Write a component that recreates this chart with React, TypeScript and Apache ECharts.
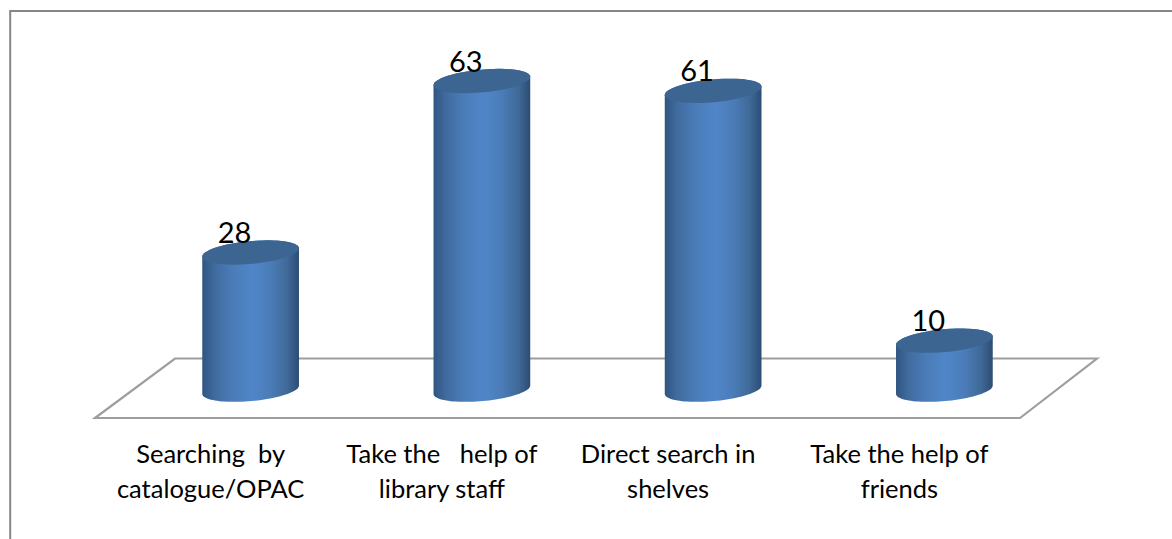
import React, { useEffect, useRef } from "react";
import * as echarts from "echarts";

const categories = [
  "Searching  by\ncatalogue/OPAC",
  "Take the   help of\nlibrary staff",
  "Direct search in\nshelves",
  "Take the help of\nfriends",
];
const values = [28, 63, 61, 10];

const FONT = "Lato, Carlito, sans-serif";
const TILT = (-5.2 * Math.PI) / 180;
const DEPTH_X = 40;
const DEPTH_Y = 28.3;

// Point on the tilted ellipse that forms a cylinder cap.
function capPoint(cx: number, cy: number, a: number, b: number, t: number) {
  const ct = Math.cos(t);
  const st = Math.sin(t);
  return [
    cx + a * ct * Math.cos(TILT) - b * st * Math.sin(TILT),
    cy + a * ct * Math.sin(TILT) + b * st * Math.cos(TILT),
  ];
}

function arc(cx: number, cy: number, a: number, b: number, from: number, to: number) {
  const pts: number[][] = [];
  const steps = 48;
  for (let i = 0; i <= steps; i++) {
    pts.push(capPoint(cx, cy, a, b, from + ((to - from) * i) / steps));
  }
  return pts;
}

// Cylinder standing on the floor: shaded body, darker top cap, value above it.
function renderCylinder(params: any, api: any) {
  const value = api.value(1);
  const [x, yTop] = api.coord([api.value(0), value]);
  const [, yBase] = api.coord([api.value(0), 0]);
  const a = api.size([1, 0])[0] * 0.21;
  const b = 11.4;
  const cx = x + DEPTH_X;
  const top = yTop - DEPTH_Y;
  const base = yBase - DEPTH_Y;

  const body = [...arc(cx, base, a, b, Math.PI, 0), ...arc(cx, top, a, b, 0, -Math.PI)];

  return {
    type: "group",
    children: [
      {
        type: "polygon",
        shape: { points: body },
        style: {
          fill: new echarts.graphic.LinearGradient(0, 0, 1, 0, [
            { offset: 0, color: "#2f5582" },
            { offset: 0.12, color: "#3f6a9c" },
            { offset: 0.3, color: "#4a7bb7" },
            { offset: 0.52, color: "#5086c9" },
            { offset: 0.72, color: "#4a7bb6" },
            { offset: 0.88, color: "#3f6997" },
            { offset: 1, color: "#2c4c74" },
          ]),
        },
      },
      {
        type: "polygon",
        shape: { points: arc(cx, top, a, b, 0, Math.PI * 2) },
        style: { fill: "#3c6591" },
      },
      {
        type: "text",
        style: {
          x: cx - 16,
          y: top - 21,
          text: String(value),
          fill: "#000000",
          font: `29px ${FONT}`,
          align: "center",
          verticalAlign: "middle",
        },
      },
    ],
  };
}

export default function App() {
  const ref = useRef<HTMLDivElement>(null);

  useEffect(() => {
    const chart = echarts.init(ref.current!, null, { renderer: "svg" });
    chart.setOption({
      animation: false,
      backgroundColor: "#ffffff",
      grid: { left: 95, right: 152, top: 26, bottom: 121 },
      xAxis: {
        type: "category",
        // The last two labels sit slightly left of their band centres.
        data: categories.map((value, i) => ({
          value,
          textStyle: { padding: [0, i < 2 ? 0 : 10, 0, 0] },
        })),
        axisLine: { show: false },
        axisTick: { show: false },
        axisLabel: {
          color: "#000000",
          fontFamily: FONT,
          fontSize: 25.5,
          lineHeight: 35,
          margin: 17,
          interval: 0,
        },
      },
      yAxis: { type: "value", min: 0, max: 80, interval: 20, show: false },
      graphic: [
        {
          type: "polyline",
          z: 0,
          shape: { points: [[10.2, 539], [10.2, 11], [1172, 11]] },
          style: { stroke: "#868686", lineWidth: 2, fill: "none" },
        },
        {
          type: "polygon",
          z: 0,
          shape: { points: [[95, 418], [175, 358.5], [1097, 358.5], [1020, 418]] },
          style: { stroke: "#9e9e9e", lineWidth: 2.2, fill: "none" },
        },
      ],
      series: [
        {
          type: "custom",
          renderItem: renderCylinder,
          encode: { x: 0, y: 1 },
          data: values.map((v, i) => [i, v]),
          clip: false,
          z: 5,
        },
      ],
    });
    return () => chart.dispose();
  }, []);

  return <div ref={ref} style={{ position: "absolute", left: 0, top: 0, width: 1172, height: 539 }} />;
}
